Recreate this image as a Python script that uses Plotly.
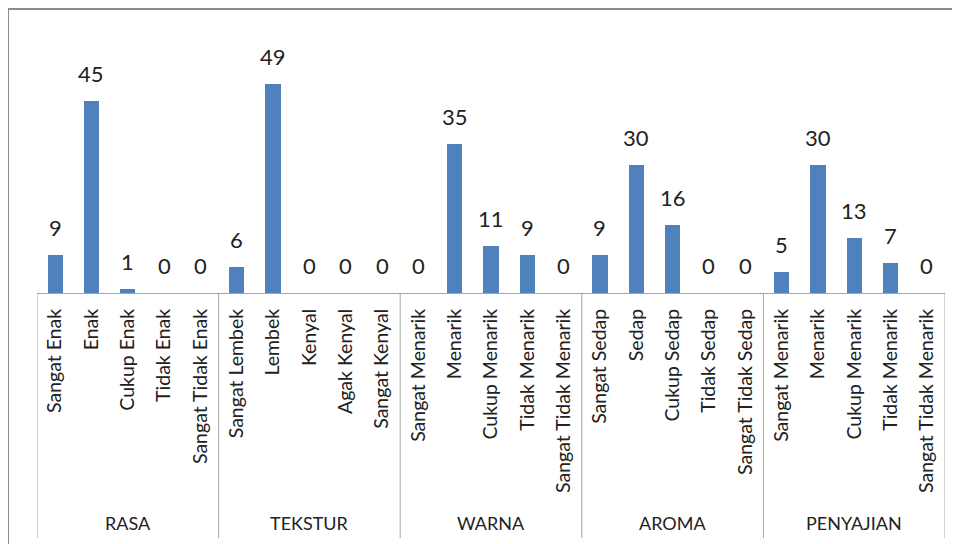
import plotly.graph_objects as go

groups = ["RASA", "TEKSTUR", "WARNA", "AROMA", "PENYAJIAN"]
categories = [
    ["Sangat Enak", "Enak", "Cukup Enak", "Tidak Enak", "Sangat Tidak Enak"],
    ["Sangat Lembek", "Lembek", "Kenyal", "Agak Kenyal", "Sangat Kenyal"],
    ["Sangat Menarik", "Menarik", "Cukup Menarik", "Tidak Menarik", "Sangat Tidak Menarik"],
    ["Sangat Sedap", "Sedap", "Cukup Sedap", "Tidak Sedap", "Sangat Tidak Sedap"],
    ["Sangat Menarik", "Menarik", "Cukup Menarik", "Tidak Menarik", "Sangat Tidak Menarik"],
]
values = [
    [9, 45, 1, 0, 0],
    [6, 49, 0, 0, 0],
    [0, 35, 11, 9, 0],
    [9, 30, 16, 0, 0],
    [5, 30, 13, 7, 0],
]

labels = [c for g in categories for c in g]
vals = [v for g in values for v in g]
xs = list(range(len(labels)))

FONT = "Lato"
OFF = 8  # page body margin
W, H = 960, 544
# desired page positions of the plot area
P_LEFT, P_RIGHT, P_TOP, P_BASE = 37, 945, 37, 293
L = P_LEFT - OFF
T = P_TOP - OFF
R = W - (P_RIGHT - OFF)
B = H - (P_BASE - OFF)
plot_h = H - T - B
plot_w = W - L - R

def px_x(px):
    return (px - P_LEFT) / plot_w

def px_y(py):
    return (P_BASE - py) / plot_h

fig = go.Figure()
fig.add_trace(go.Bar(
    x=xs, y=vals, width=0.42,
    marker=dict(color="#4F81BD", line=dict(width=0)),
    hoverinfo="x+y",
))

annotations = []
for x, v in zip(xs, vals):
    annotations.append(dict(x=x, y=v, xref="x", yref="y", text=str(v),
                            showarrow=False, yanchor="bottom", yshift=12,
                            font=dict(family=FONT, size=22, color="#222222")))

shapes = []
n = len(categories[0])
for i in range(len(groups) + 1):
    xb = i * n - 0.5
    shapes.append(dict(type="line", xref="x", yref="paper", x0=xb, x1=xb,
                       y0=0, y1=px_y(538), line=dict(color="#a6a6a6", width=1)))
# outer border
shapes.append(dict(type="line", xref="paper", yref="paper", x0=px_x(8), x1=px_x(8),
                   y0=px_y(9), y1=px_y(560), line=dict(color="#8c8c8c", width=2)))
shapes.append(dict(type="line", xref="paper", yref="paper", x0=px_x(8), x1=px_x(980),
                   y0=px_y(9), y1=px_y(9), line=dict(color="#8c8c8c", width=2)))

for i, g in enumerate(groups):
    annotations.append(dict(x=i * n + (n - 1) / 2, y=px_y(523), xref="x", yref="paper",
                            text=g, showarrow=False, yanchor="middle",
                            font=dict(family=FONT, size=18, color="#222222")))

fig.update_layout(
    width=W, height=H,
    margin=dict(l=L, r=R, t=T, b=B, autoexpand=False),
    paper_bgcolor="white", plot_bgcolor="white",
    showlegend=False,
    bargap=0,
    shapes=shapes, annotations=annotations,
    xaxis=dict(range=[-0.5, len(labels) - 0.5], tickmode="array", tickvals=xs,
               ticktext=labels, tickangle=-90, showgrid=False, zeroline=False,
               showline=True, linecolor="#a6a6a6", linewidth=1, ticks="", ticklen=0,
               automargin=False, ticklabelstandoff=7,
               tickfont=dict(family=FONT, size=19.5, color="#222222")),
    yaxis=dict(range=[0, 60], visible=False, showgrid=False, zeroline=False,
               automargin=False),
)

fig.write_html("out.html")
